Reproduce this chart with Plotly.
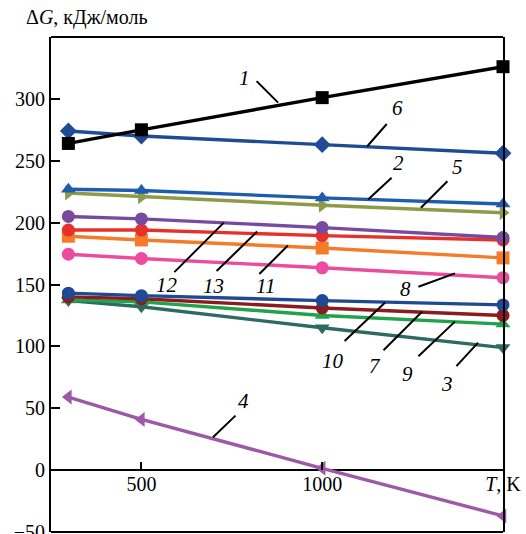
import plotly.graph_objects as go

T = [298, 500, 1000, 1500]

s1 = [264, 275, 301, 326]
s6 = [274, 270, 263, 256]
s2 = [227, 226, 220, 215]
s5 = [224, 221, 214, 208]
s12 = [205, 203, 196, 188]
s13 = [194, 194, 189.5, 186]
s11 = [189, 186, 179.5, 171.5]
s8 = [174.5, 171, 163.5, 155.5]
s10 = [143, 141, 137, 133.5]
s7 = [140, 138.5, 131, 125]
s9 = [137.5, 136, 125, 118]
s3 = [137, 132, 115, 99]
s4 = [59, 41, 1.5, -37]

series = [
    ("4", s4, "#9b59a8", "triangle-left"),
    ("3", s3, "#2d6a62", "triangle-down"),
    ("9", s9, "#22a24a", "triangle-up"),
    ("7", s7, "#8c1b1e", "circle"),
    ("10", s10, "#1f4a93", "circle"),
    ("8", s8, "#ec4c9d", "circle"),
    ("11", s11, "#f47b2a", "square"),
    ("13", s13, "#e8302b", "circle"),
    ("12", s12, "#774aa0", "circle"),
    ("5", s5, "#8d9a48", "triangle-right"),
    ("2", s2, "#1e5cad", "triangle-up"),
    ("6", s6, "#1f4b95", "diamond"),
    ("1", s1, "#000000", "square"),
]

# label text position (data), arrow head (data), tail offset (px)
labels = [
    ("1", 786, 317, 878, 297, -23, -23),
    ("6", 1207, 293, 1124, 261.5, 21, -24),
    ("2", 1210, 248.5, 1127, 218.7, 25, -23),
    ("5", 1373, 245, 1273, 212, 28, -28),
    ("12", 571, 150, 728, 200, -51, 51),
    ("13", 698, 148.5, 820, 192.8, -42, 41),
    ("11", 842, 148.5, 905, 181.5, -30, 30),
    ("8", 1229, 146, 1367, 159, -38, 14),
    ("10", 1030, 88, 1174, 135.5, -42, 40),
    ("7", 1146, 84, 1276, 128, -40, 40),
    ("9", 1237, 77.5, 1367, 120, -38, 36),
    ("3", 1345, 69.4, 1431, 103, -23, 25),
    ("4", 781, 55.7, 698, 26.6, 24, -23),
]

fig = go.Figure()
for name, vals, col, sym in series:
    fig.add_trace(go.Scatter(
        x=T, y=vals, mode="lines+markers", name=name,
        line=dict(color=col, width=3.4),
        marker=dict(color=col, symbol=sym, size=13),
        cliponaxis=False, showlegend=False,
    ))

serif = "Times New Roman, Liberation Serif, DejaVu Serif, serif"
ann = []
for txt, tx, ty, hx, hy, ax, ay in labels:
    ann.append(dict(x=hx, y=hy, xref="x", yref="y", text="", showarrow=True,
                    arrowhead=0, arrowwidth=2, arrowcolor="black",
                    ax=ax, ay=ay, standoff=0, startstandoff=0))
    ann.append(dict(x=tx, y=ty, xref="x", yref="y", text="<i>%s</i>" % txt,
                    showarrow=False, font=dict(family=serif, size=21, color="black")))

ann.append(dict(x=0, y=1.0, xref="paper", yref="paper", xanchor="left", yanchor="bottom",
                yshift=6, xshift=-27,
                text="Δ<i>G</i>, кДж/моль", showarrow=False,
                font=dict(family=serif, size=20, color="black")))

ymin, ymax = -50, 350
zero_pos = (0 - ymin) / (ymax - ymin)

fig.update_layout(
    width=526, height=534,
    margin=dict(l=51, r=23, t=37, b=2, autoexpand=False),
    paper_bgcolor="white", plot_bgcolor="white",
    font=dict(family=serif, size=20, color="black"),
    annotations=ann,
    xaxis=dict(range=[250, 1500], tickvals=[500, 1000, 1500],
               ticktext=["500", "1000", "<i>T</i>, K"],
               showgrid=False, zeroline=False, showline=False,
               ticks="inside", ticklen=8, tickwidth=2, tickcolor="black",
               anchor="free", position=zero_pos, ticklabeloverflow="allow",
               automargin=False),
    yaxis=dict(range=[ymin, ymax], tickvals=[-50, 0, 50, 100, 150, 200, 250, 300],
               ticktext=["−50", "0", "50", "100", "150", "200", "250", "300"],
               showgrid=False, zeroline=True, zerolinecolor="black", zerolinewidth=2,
               showline=True, linecolor="black", linewidth=2, mirror=True,
               ticks="inside", ticklen=9, tickwidth=2, tickcolor="black",
               ticklabeloverflow="allow", automargin=False),
    shapes=[dict(type="line", xref="paper", yref="paper", x0=0, x1=1, y0=1, y1=1,
                 line=dict(color="black", width=2)),
            dict(type="line", xref="paper", yref="paper", x0=0, x1=1, y0=0, y1=0,
                 line=dict(color="black", width=2))],
)

fig.write_html("out.html")
